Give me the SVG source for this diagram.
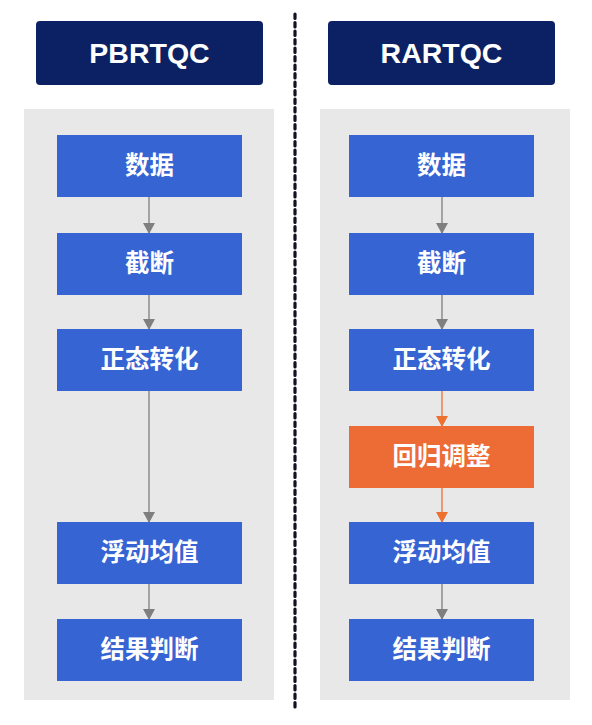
<svg xmlns="http://www.w3.org/2000/svg" width="592" height="725" viewBox="0 0 592 725">
<defs>
<marker id="ag" markerWidth="12" markerHeight="11" refX="6" refY="10" markerUnits="userSpaceOnUse" viewBox="0 0 12 11"><path d="M0,0 L12,0 L6,11 Z" fill="#7f7f7f"/></marker>
<marker id="ao" markerWidth="12" markerHeight="11" refX="6" refY="10" markerUnits="userSpaceOnUse" viewBox="0 0 12 11"><path d="M0,0 L12,0 L6,11 Z" fill="#ed7031"/></marker>
</defs>
<style>
.title{fill:#0b2163;}
.titletext{font-family:"Liberation Sans",Arial,sans-serif;font-weight:bold;font-size:28.5px;fill:#ffffff;text-anchor:middle;}
.panel{fill:#e8e8e8;}
.box{fill:#3664d3;}
.obox{fill:#ed6b35;}
.lbl{font-family:"Noto Sans CJK SC",sans-serif;font-weight:bold;font-size:24.5px;fill:#ffffff;text-anchor:middle;}
.cg{stroke:#7f7f7f;stroke-width:1.3;fill:none;}
.co{stroke:#ed7031;stroke-width:1.3;fill:none;}
</style>
<rect width="592" height="725" fill="#ffffff"/>
<line x1="295" y1="14" x2="295" y2="710" stroke="#111122" stroke-width="3.2" stroke-dasharray="4.5 4" stroke-linecap="round"/>
<g id="title-left"><rect class="title" x="36" y="21" width="227" height="64" rx="4"/><text class="titletext" x="149.5" y="63">PBRTQC</text></g>
<g id="title-right"><rect class="title" x="328" y="21" width="227" height="64" rx="4"/><text class="titletext" x="441.5" y="63">RARTQC</text></g>
<g id="panel-left"><rect class="panel" x="24" y="109" width="250" height="591"/></g>
<g id="panel-right"><rect class="panel" x="320" y="109" width="250" height="591"/></g>
<g id="connectors">
<line class="cg" x1="149" y1="197" x2="149" y2="233" marker-end="url(#ag)"/>
<line class="cg" x1="149" y1="295" x2="149" y2="329" marker-end="url(#ag)"/>
<line class="cg" x1="149" y1="391" x2="149" y2="522" marker-end="url(#ag)"/>
<line class="cg" x1="149" y1="584" x2="149" y2="619" marker-end="url(#ag)"/>
<line class="cg" x1="442" y1="197" x2="442" y2="233" marker-end="url(#ag)"/>
<line class="cg" x1="442" y1="295" x2="442" y2="329" marker-end="url(#ag)"/>
<line class="co" x1="442" y1="391" x2="442" y2="426" marker-end="url(#ao)"/>
<line class="co" x1="442" y1="488" x2="442" y2="522" marker-end="url(#ao)"/>
<line class="cg" x1="442" y1="584" x2="442" y2="619" marker-end="url(#ag)"/>
</g>
<g id="l-data"><rect class="box" x="57" y="135" width="185" height="62"/><text class="lbl" x="149.5" y="174">数据</text></g>
<g id="l-trunc"><rect class="box" x="57" y="233" width="185" height="62"/><text class="lbl" x="149.5" y="272">截断</text></g>
<g id="l-norm"><rect class="box" x="57" y="329" width="185" height="62"/><text class="lbl" x="149.5" y="368">正态转化</text></g>
<g id="l-mean"><rect class="box" x="57" y="522" width="185" height="62"/><text class="lbl" x="149.5" y="561">浮动均值</text></g>
<g id="l-judge"><rect class="box" x="57" y="619" width="185" height="62"/><text class="lbl" x="149.5" y="658">结果判断</text></g>
<g id="r-data"><rect class="box" x="349" y="135" width="185" height="62"/><text class="lbl" x="441.5" y="174">数据</text></g>
<g id="r-trunc"><rect class="box" x="349" y="233" width="185" height="62"/><text class="lbl" x="441.5" y="272">截断</text></g>
<g id="r-norm"><rect class="box" x="349" y="329" width="185" height="62"/><text class="lbl" x="441.5" y="368">正态转化</text></g>
<g id="r-reg"><rect class="obox" x="349" y="426" width="185" height="62"/><text class="lbl" x="441.5" y="465">回归调整</text></g>
<g id="r-mean"><rect class="box" x="349" y="522" width="185" height="62"/><text class="lbl" x="441.5" y="561">浮动均值</text></g>
<g id="r-judge"><rect class="box" x="349" y="619" width="185" height="62"/><text class="lbl" x="441.5" y="658">结果判断</text></g>
</svg>
